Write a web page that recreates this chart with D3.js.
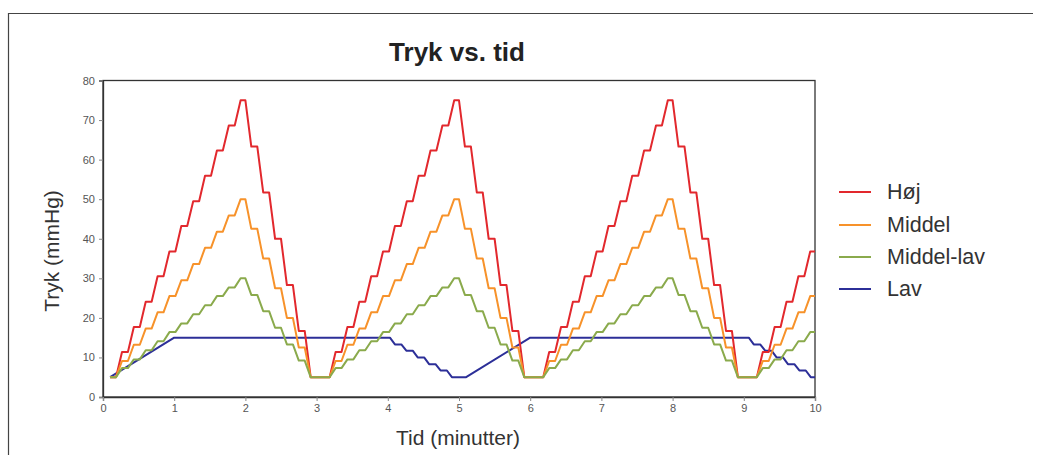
<!DOCTYPE html>
<html>
<head>
<meta charset="utf-8">
<script src="https://cdn.jsdelivr.net/npm/d3@7"></script>
<style>
  html, body { margin: 0; padding: 0; background: #ffffff; }
  svg { display: block; font-family: "Liberation Sans", Arial, Helvetica, sans-serif; }
</style>
</head>
<body>
<svg id="chart" width="1048" height="455"></svg>
<script>
// ---------------- DATA ----------------
const title = "Tryk vs. tid";
const xLabel = "Tid (minutter)";
const yLabel = "Tryk (mmHg)";
const seriesNames = ["Høj", "Middel", "Middel-lav", "Lav"];
const xTicks = [0, 1, 2, 3, 4, 5, 6, 7, 8, 9, 10];
const yTicks = [0, 10, 20, 30, 40, 50, 60, 70, 80];

// shared time points (minutes) for the three stepped series
const stepTimes = [
  0.1, 0.183, 0.267, 0.35, 0.433, 0.517, 0.6, 0.683, 0.767, 0.85, 0.933, 1.017,
  1.1, 1.183, 1.267, 1.35, 1.433, 1.517, 1.6, 1.683, 1.767, 1.85, 1.933, 2.0,
  2.083, 2.167, 2.25, 2.333, 2.417, 2.5, 2.583, 2.667, 2.75, 2.833, 2.917,
  3.183, 3.267, 3.35, 3.433, 3.517, 3.6, 3.683, 3.767, 3.85, 3.933, 4.017, 4.1,
  4.183, 4.267, 4.35, 4.433, 4.517, 4.6, 4.683, 4.767, 4.85, 4.933, 5.0,
  5.083, 5.167, 5.25, 5.333, 5.417, 5.5, 5.583, 5.667, 5.75, 5.833, 5.917,
  6.183, 6.267, 6.35, 6.433, 6.517, 6.6, 6.683, 6.767, 6.85, 6.933, 7.017, 7.1,
  7.183, 7.267, 7.35, 7.433, 7.517, 7.6, 7.683, 7.767, 7.85, 7.933, 8.0,
  8.083, 8.167, 8.25, 8.333, 8.417, 8.5, 8.583, 8.667, 8.75, 8.833, 8.917,
  9.183, 9.267, 9.35, 9.433, 9.517, 9.6, 9.683, 9.767, 9.85, 9.933, 10.0
];

const hoej = [
  5, 5, 11.4, 11.4, 17.7, 17.7, 24.1, 24.1, 30.5, 30.5, 36.8, 36.8,
  43.2, 43.2, 49.5, 49.5, 55.9, 55.9, 62.3, 62.3, 68.6, 68.6, 75, 75,
  63.3, 63.3, 51.7, 51.7, 40, 40, 28.3, 28.3, 16.7, 16.7, 5,
  5, 11.4, 11.4, 17.7, 17.7, 24.1, 24.1, 30.5, 30.5, 36.8, 36.8, 43.2,
  43.2, 49.5, 49.5, 55.9, 55.9, 62.3, 62.3, 68.6, 68.6, 75, 75,
  63.3, 63.3, 51.7, 51.7, 40, 40, 28.3, 28.3, 16.7, 16.7, 5,
  5, 11.4, 11.4, 17.7, 17.7, 24.1, 24.1, 30.5, 30.5, 36.8, 36.8, 43.2,
  43.2, 49.5, 49.5, 55.9, 55.9, 62.3, 62.3, 68.6, 68.6, 75, 75,
  63.3, 63.3, 51.7, 51.7, 40, 40, 28.3, 28.3, 16.7, 16.7, 5,
  5, 11.4, 11.4, 17.7, 17.7, 24.1, 24.1, 30.5, 30.5, 36.8, 36.8
];

const middel = [
  5, 5, 9.1, 9.1, 13.2, 13.2, 17.3, 17.3, 21.4, 21.4, 25.5, 25.5,
  29.5, 29.5, 33.6, 33.6, 37.7, 37.7, 41.8, 41.8, 45.9, 45.9, 50, 50,
  42.5, 42.5, 35, 35, 27.5, 27.5, 20, 20, 12.5, 12.5, 5,
  5, 9.1, 9.1, 13.2, 13.2, 17.3, 17.3, 21.4, 21.4, 25.5, 25.5, 29.5,
  29.5, 33.6, 33.6, 37.7, 37.7, 41.8, 41.8, 45.9, 45.9, 50, 50,
  42.5, 42.5, 35, 35, 27.5, 27.5, 20, 20, 12.5, 12.5, 5,
  5, 9.1, 9.1, 13.2, 13.2, 17.3, 17.3, 21.4, 21.4, 25.5, 25.5, 29.5,
  29.5, 33.6, 33.6, 37.7, 37.7, 41.8, 41.8, 45.9, 45.9, 50, 50,
  42.5, 42.5, 35, 35, 27.5, 27.5, 20, 20, 12.5, 12.5, 5,
  5, 9.1, 9.1, 13.2, 13.2, 17.3, 17.3, 21.4, 21.4, 25.5, 25.5
];

const middelLav = [
  5, 5, 7.3, 7.3, 9.5, 9.5, 11.8, 11.8, 14.1, 14.1, 16.4, 16.4,
  18.6, 18.6, 20.9, 20.9, 23.2, 23.2, 25.5, 25.5, 27.7, 27.7, 30, 30,
  25.8, 25.8, 21.7, 21.7, 17.5, 17.5, 13.3, 13.3, 9.2, 9.2, 5,
  5, 7.3, 7.3, 9.5, 9.5, 11.8, 11.8, 14.1, 14.1, 16.4, 16.4, 18.6,
  18.6, 20.9, 20.9, 23.2, 23.2, 25.5, 25.5, 27.7, 27.7, 30, 30,
  25.8, 25.8, 21.7, 21.7, 17.5, 17.5, 13.3, 13.3, 9.2, 9.2, 5,
  5, 7.3, 7.3, 9.5, 9.5, 11.8, 11.8, 14.1, 14.1, 16.4, 16.4, 18.6,
  18.6, 20.9, 20.9, 23.2, 23.2, 25.5, 25.5, 27.7, 27.7, 30, 30,
  25.8, 25.8, 21.7, 21.7, 17.5, 17.5, 13.3, 13.3, 9.2, 9.2, 5,
  5, 7.3, 7.3, 9.5, 9.5, 11.8, 11.8, 14.1, 14.1, 16.4, 16.4
];

// "Lav" has its own time points
const lavTimes = [
  0.1, 1.0, 4.03,
  4.10, 4.19, 4.26, 4.35, 4.42, 4.51, 4.58, 4.67, 4.74, 4.83, 4.90,
  5.1, 6.0, 9.07,
  9.14, 9.23, 9.30, 9.39, 9.46, 9.55, 9.62, 9.71, 9.78, 9.87, 9.94,
  10.0
];
const lav = [
  5, 15, 15,
  13.3, 13.3, 11.7, 11.7, 10, 10, 8.3, 8.3, 6.7, 6.7, 5,
  5, 15, 15,
  13.3, 13.3, 11.7, 11.7, 10, 10, 8.3, 8.3, 6.7, 6.7, 5,
  5
];

const seriesColors = ["#e2282d", "#f7922a", "#8aaa4c", "#2c2f98"];

// ---------------- DRAW ----------------
const svg = d3.select("#chart");
const W = 1048, H = 455;
const plot = { left: 103, right: 815, top: 80.5, bottom: 397 };

const x = d3.scaleLinear().domain([0, 10]).range([plot.left, plot.right]);
const y = d3.scaleLinear().domain([0, 80]).range([plot.bottom, plot.top]);

// outer frame (top + left edges)
svg.append("path")
  .attr("d", `M8.5,${H} L8.5,13.5 L1033,13.5`)
  .attr("fill", "none").attr("stroke", "#444").attr("stroke-width", 1.2);

// title
svg.append("text")
  .attr("x", 457).attr("y", 61)
  .attr("text-anchor", "middle")
  .attr("font-size", 26).attr("font-weight", "bold").attr("fill", "#222")
  .text(title);

// plot box
svg.append("rect")
  .attr("x", plot.left).attr("y", plot.top)
  .attr("width", plot.right - plot.left).attr("height", plot.bottom - plot.top)
  .attr("fill", "none").attr("stroke", "#333").attr("stroke-width", 1.3);

// axes
const yAxis = d3.axisLeft(y).tickValues(yTicks).tickSize(4).tickPadding(4);
const xAxis = d3.axisBottom(x).tickValues(xTicks).tickSize(4).tickPadding(3);

const gy = svg.append("g").attr("transform", `translate(${plot.left},0)`).call(yAxis);
const gx = svg.append("g").attr("transform", `translate(0,${plot.bottom})`).call(xAxis);
[gx, gy].forEach(g => {
  g.select(".domain").attr("stroke", "#333").attr("stroke-width", 1.3);
  g.selectAll(".tick line").attr("stroke", "#888");
  g.selectAll(".tick text").attr("font-size", 11).attr("fill", "#555")
    .attr("font-family", "Liberation Sans, Arial, sans-serif");
});

// axis labels
svg.append("text")
  .attr("x", 458).attr("y", 445)
  .attr("text-anchor", "middle")
  .attr("font-size", 21).attr("fill", "#333")
  .text(xLabel);

svg.append("text")
  .attr("transform", "translate(59,251) rotate(-90)")
  .attr("text-anchor", "middle")
  .attr("font-size", 21).attr("fill", "#333")
  .text(yLabel);

// series
const line = d3.line().x(d => x(d[0])).y(d => y(d[1]));
const stepped = [hoej, middel, middelLav].map(vals => stepTimes.map((t, i) => [t, vals[i]]));
const lavPts = lavTimes.map((t, i) => [t, lav[i]]);
const allSeries = [stepped[0], stepped[1], stepped[2], lavPts];

// draw order: Lav behind, then Høj, Middel, Middel-lav
[3, 0, 1, 2].forEach(i => {
  svg.append("path")
    .datum(allSeries[i])
    .attr("d", line)
    .attr("fill", "none")
    .attr("stroke", seriesColors[i])
    .attr("stroke-width", 2)
    .attr("stroke-linejoin", "round");
});

// legend
const legend = svg.append("g");
const legendY = [192, 225, 257, 289];
seriesNames.forEach((name, i) => {
  legend.append("line")
    .attr("x1", 839).attr("x2", 871)
    .attr("y1", legendY[i]).attr("y2", legendY[i])
    .attr("stroke", seriesColors[i]).attr("stroke-width", 2);
  legend.append("text")
    .attr("x", 887).attr("y", legendY[i] + 7)
    .attr("font-size", 21.5).attr("fill", "#333")
    .text(name);
});
</script>
</body>
</html>
